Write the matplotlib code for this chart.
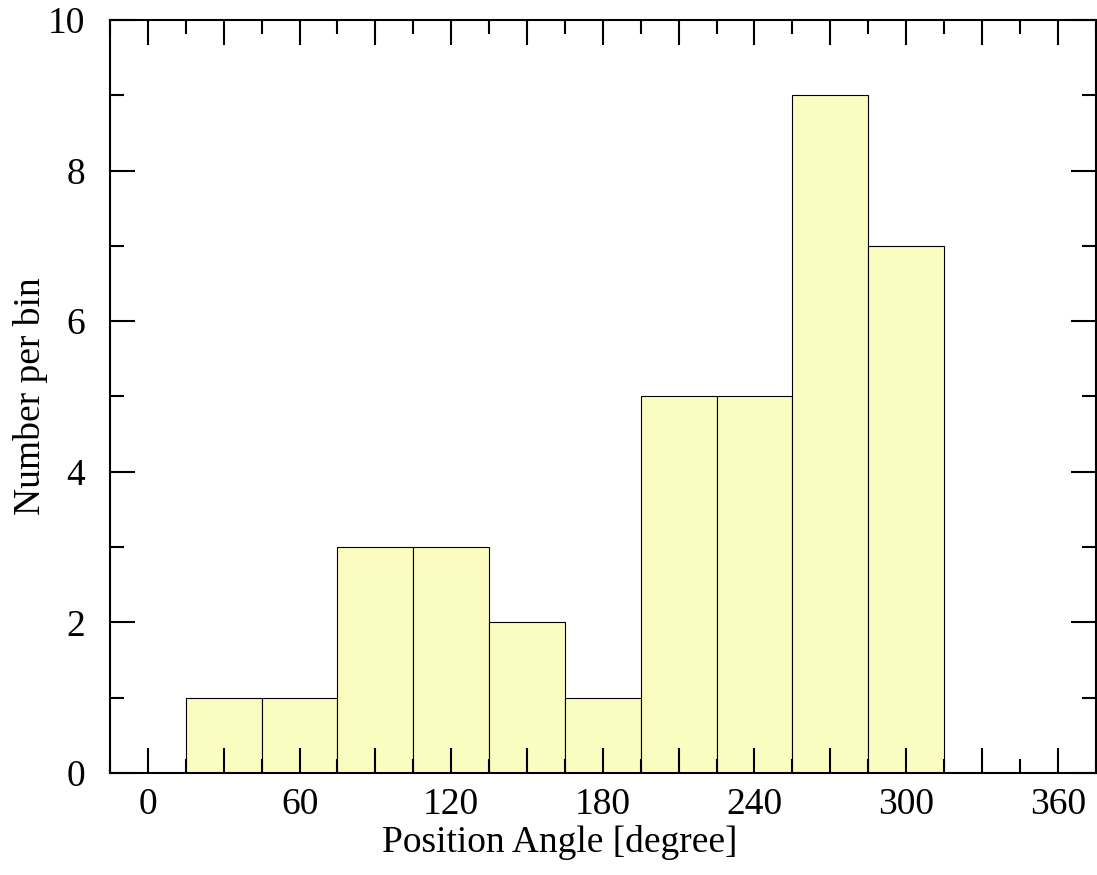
import matplotlib.pyplot as plt
import numpy as np
from matplotlib.ticker import MultipleLocator

# histogram of position angles, 30 degree bins
bin_centers = [30, 60, 90, 120, 150, 180, 210, 240, 270, 300]
counts = [1, 1, 3, 3, 2, 1, 5, 5, 9, 7]

plt.rcParams['font.family'] = ['Liberation Serif', 'DejaVu Serif']

fig = plt.figure(figsize=(10.97, 8.75), dpi=100)
ax = fig.add_axes([0.1003, 0.1166, 0.8985, 0.8606])

ax.bar(bin_centers, counts, width=30, align='center',
       color='#fbfdc0', edgecolor='black', linewidth=0.8, zorder=1)

ax.xaxis.set_major_locator(MultipleLocator(30))
ax.xaxis.set_minor_locator(MultipleLocator(15))
ax.set_xticklabels([str(int(v)) if v % 60 == 0 else ""
                    for v in ax.get_xticks()])
ax.set_xlim(-15, 375)
ax.set_ylim(0, 10)
ax.yaxis.set_major_locator(MultipleLocator(2))
ax.yaxis.set_minor_locator(MultipleLocator(1))

ax.tick_params(which='both', direction='in', top=True, right=True,
               labelsize=27, width=1.5, zorder=5)
ax.tick_params(which='major', length=18)
ax.tick_params(which='minor', length=10)
ax.tick_params(axis='x', which='major', pad=10.5)
ax.tick_params(axis='y', which='major', pad=18)
for side in ax.spines.values():
    side.set_linewidth(1.5)
    side.set_zorder(5)

ax.set_xlabel("Position Angle [degree]", fontsize=27, labelpad=2)
ax.xaxis.label.set_x(0.456)
ax.set_ylabel("Number per bin", fontsize=27, labelpad=0)

fig.savefig("out.png", dpi=100)
